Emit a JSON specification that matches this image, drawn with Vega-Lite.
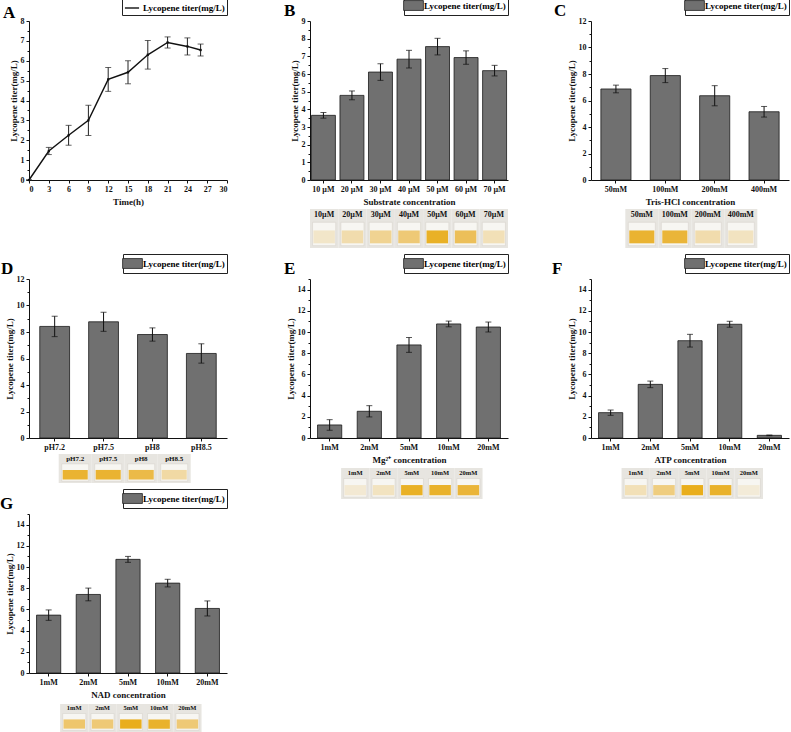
{
  "$schema": "https://vega.github.io/schema/vega-lite/v6.json",
  "description": "Lycopene titer under different reaction conditions, panels A-G",
  "padding": {"top": -5, "left": 0, "right": 0, "bottom": 0},
  "datasets": {
    "a": [
      {"t": 0, "v": 0, "e": 0},
      {"t": 3, "v": 1.46, "e": 0.18},
      {"t": 6, "v": 2.25, "e": 0.5},
      {"t": 9, "v": 3.0, "e": 0.76},
      {"t": 12, "v": 5.06, "e": 0.6},
      {"t": 15, "v": 5.42, "e": 0.58},
      {"t": 18, "v": 6.3, "e": 0.72},
      {"t": 21, "v": 6.92, "e": 0.28},
      {"t": 24, "v": 6.72, "e": 0.43},
      {"t": 26, "v": 6.54, "e": 0.3}
    ],
    "b": [
      {"c": "10 µM", "v": 3.66, "e": 0.16},
      {"c": "20 µM", "v": 4.79, "e": 0.25},
      {"c": "30 µM", "v": 6.11, "e": 0.47},
      {"c": "40 µM", "v": 6.84, "e": 0.5},
      {"c": "50 µM", "v": 7.55, "e": 0.47},
      {"c": "60 µM", "v": 6.93, "e": 0.38},
      {"c": "70 µM", "v": 6.19, "e": 0.3}
    ],
    "c": [
      {"c": "50mM", "v": 6.87, "e": 0.29},
      {"c": "100mM", "v": 7.88, "e": 0.53},
      {"c": "200mM", "v": 6.36, "e": 0.76},
      {"c": "400mM", "v": 5.15, "e": 0.4}
    ],
    "d": [
      {"c": "pH7.2", "v": 8.42, "e": 0.77},
      {"c": "pH7.5", "v": 8.77, "e": 0.72},
      {"c": "pH8", "v": 7.81, "e": 0.5},
      {"c": "pH8.5", "v": 6.38, "e": 0.73}
    ],
    "e": [
      {"c": "1mM", "v": 1.23, "e": 0.5},
      {"c": "2mM", "v": 2.52, "e": 0.53},
      {"c": "5mM", "v": 8.78, "e": 0.7},
      {"c": "10mM", "v": 10.76, "e": 0.27},
      {"c": "20mM", "v": 10.47, "e": 0.47}
    ],
    "f": [
      {"c": "1mM", "v": 2.39, "e": 0.25},
      {"c": "2mM", "v": 5.06, "e": 0.31},
      {"c": "5mM", "v": 9.18, "e": 0.6},
      {"c": "10mM", "v": 10.73, "e": 0.28},
      {"c": "20mM", "v": 0.25, "e": 0.03}
    ],
    "g": [
      {"c": "1mM", "v": 5.46, "e": 0.49},
      {"c": "2mM", "v": 7.41, "e": 0.6},
      {"c": "5mM", "v": 10.72, "e": 0.28},
      {"c": "10mM", "v": 8.48, "e": 0.36},
      {"c": "20mM", "v": 6.09, "e": 0.71}
    ],
    "pb": [
      {"c": "10µM", "k": 0.1},
      {"c": "20µM", "k": 0.25},
      {"c": "30µM", "k": 0.4},
      {"c": "40µM", "k": 0.55},
      {"c": "50µM", "k": 0.92},
      {"c": "60µM", "k": 0.7},
      {"c": "70µM", "k": 0.2}
    ],
    "pc": [
      {"c": "50mM", "k": 0.88},
      {"c": "100mM", "k": 0.85},
      {"c": "200mM", "k": 0.25},
      {"c": "400mM", "k": 0.15}
    ],
    "pd": [
      {"c": "pH7.2", "k": 0.88},
      {"c": "pH7.5", "k": 0.88},
      {"c": "pH8", "k": 0.78},
      {"c": "pH8.5", "k": 0.3}
    ],
    "pe": [
      {"c": "1mM", "k": 0.05},
      {"c": "2mM", "k": 0.15},
      {"c": "5mM", "k": 0.92},
      {"c": "10mM", "k": 0.9},
      {"c": "20mM", "k": 0.85}
    ],
    "pf": [
      {"c": "1mM", "k": 0.2},
      {"c": "2mM", "k": 0.5},
      {"c": "5mM", "k": 0.95},
      {"c": "10mM", "k": 0.9},
      {"c": "20mM", "k": 0.02}
    ],
    "pg": [
      {"c": "1mM", "k": 0.6},
      {"c": "2mM", "k": 0.55},
      {"c": "5mM", "k": 0.95},
      {"c": "10mM", "k": 0.9},
      {"c": "20mM", "k": 0.55}
    ]
  },
  "vconcat": [
    {
      "columns": 3,
      "spacing": {"column": 83, "row": 29},
      "bounds": "flush",
      "resolve": {"scale": {"color": "independent", "x": "independent", "y": "independent"}, "legend": {"color": "independent"}},
      "concat": [
        {
          "width": 198, "height": 159,
          "title": {"text": "A", "dx": -26},
          "data": {"name": "a"},
          "encoding": {
            "x": {"field": "t", "type": "quantitative", "scale": {"domain": [0, 30], "nice": false}, "axis": {"title": "Time(h)", "values": [0, 3, 6, 9, 12, 15, 18, 21, 24, 27, 30]}}
          },
          "layer": [
            {
              "mark": {"type": "errorbar", "ticks": {"size": 6}, "color": "#222"},
              "encoding": {
                "y": {"field": "v", "type": "quantitative", "scale": {"domain": [0, 8], "nice": false}, "axis": {"orient": "left", "title": null, "labels": false, "domain": false, "tickSize": 2, "values": [0.5, 1.5, 2.5, 3.5, 4.5, 5.5, 6.5, 7.5]}},
                "yError": {"field": "e"}
              }
            },
            {
              "mark": {"type": "line", "strokeWidth": 1.4, "point": {"shape": "square", "size": 5, "filled": true, "color": "#111"}},
              "encoding": {
                "y": {"field": "v", "type": "quantitative", "axis": {"orient": "left", "title": "Lycopene titer(mg/L)", "values": [0, 1, 2, 3, 4, 5, 6, 7, 8]}},
                "color": {"datum": "Lycopene titer(mg/L)", "scale": {"range": ["#111111"]}, "legend": {"title": null, "symbolType": "stroke", "symbolSize": 200, "symbolStrokeWidth": 1.4}}
              }
            }
          ],
          "resolve": {"axis": {"y": "independent"}}
        },
        {
          "width": 198, "height": 159,
          "title": {"text": "B", "dx": -26},
          "data": {"name": "b"},
          "encoding": {
            "x": {"field": "c", "type": "nominal", "sort": null, "scale": {"paddingInner": 0.16, "paddingOuter": 0.05}, "axis": {"title": "Substrate concentration"}}
          },
          "layer": [
            {
              "mark": {"type": "bar", "stroke": "#1a1a1a", "strokeWidth": 0.8},
              "encoding": {
                "y": {"field": "v", "type": "quantitative", "scale": {"domain": [0, 9], "nice": false}, "axis": {"orient": "left", "title": "Lycopene titer(mg/L)", "values": [0, 1, 2, 3, 4, 5, 6, 7, 8, 9]}},
                "color": {"datum": "Lycopene titer(mg/L)", "scale": {"range": ["#707070"]}, "legend": {"title": null}}
              }
            },
            {
              "mark": {"type": "errorbar", "ticks": {"size": 6}, "color": "#111"},
              "encoding": {
                "y": {"field": "v", "type": "quantitative", "axis": {"orient": "left", "title": null, "labels": false, "domain": false, "tickSize": 2, "values": [0.5, 1.5, 2.5, 3.5, 4.5, 5.5, 6.5, 7.5, 8.5]}},
                "yError": {"field": "e"}
              }
            }
          ],
          "resolve": {"axis": {"y": "independent"}}
        },
        {
          "width": 198, "height": 159,
          "title": {"text": "C", "dx": -37},
          "data": {"name": "c"},
          "encoding": {
            "x": {"field": "c", "type": "nominal", "sort": null, "scale": {"paddingInner": 0.39, "paddingOuter": 0.2}, "axis": {"title": "Tris-HCl concentration"}}
          },
          "layer": [
            {
              "mark": {"type": "bar", "stroke": "#1a1a1a", "strokeWidth": 0.8},
              "encoding": {
                "y": {"field": "v", "type": "quantitative", "scale": {"domain": [0, 12], "nice": false}, "axis": {"orient": "left", "title": "Lycopene titer(mg/L)", "values": [0, 2, 4, 6, 8, 10, 12]}},
                "color": {"datum": "Lycopene titer(mg/L)", "scale": {"range": ["#707070"]}, "legend": {"title": null}}
              }
            },
            {
              "mark": {"type": "errorbar", "ticks": {"size": 6}, "color": "#111"},
              "encoding": {
                "y": {"field": "v", "type": "quantitative", "axis": {"orient": "left", "title": null, "labels": false, "domain": false, "tickSize": 2, "values": [1, 3, 5, 7, 9, 11]}},
                "yError": {"field": "e"}
              }
            }
          ],
          "resolve": {"axis": {"y": "independent"}}
        },
        {"width": 198, "height": 39, "data": {"values": []}, "mark": "point"},
        {
          "width": 198, "height": 39,
          "data": {"name": "pb"},
          "encoding": {"x": {"field": "c", "type": "nominal", "sort": null, "axis": null, "scale": {"paddingInner": 0, "paddingOuter": 0}}},
          "layer": [
            {"mark": {"type": "rect", "color": "#e7e5e0"}, "encoding": {"y": {"datum": 0, "scale": {"domain": [0, 1], "nice": false, "zero": false}, "axis": null}, "y2": {"datum": 1}}},
            {"mark": {"type": "bar", "width": {"band": 0.82}, "color": "#f7f6f2", "stroke": "#d6d3cc", "strokeWidth": 0.6}, "encoding": {"y": {"datum": 0.06}, "y2": {"datum": 0.66}}},
            {"mark": {"type": "bar", "width": {"band": 0.76}}, "encoding": {"y": {"datum": 0.12}, "y2": {"datum": 0.45}, "color": {"field": "k", "type": "quantitative", "scale": {"domain": [0, 1], "range": ["#f3ecdc", "#e8ab00"]}, "legend": null}}},
            {"mark": {"type": "text", "fontWeight": "bold", "fontSize": 8, "color": "#111"}, "encoding": {"y": {"datum": 0.84}, "text": {"field": "c"}}}
          ]
        },
        {
          "width": 198, "height": 39,
          "data": {"name": "pc"},
          "encoding": {"x": {"field": "c", "type": "nominal", "sort": null, "axis": null, "scale": {"paddingInner": 0, "paddingOuter": 1.118, "align": 0.52}}},
          "layer": [
            {"mark": {"type": "rect", "color": "#e7e5e0"}, "encoding": {"y": {"datum": 0, "scale": {"domain": [0, 1], "nice": false, "zero": false}, "axis": null}, "y2": {"datum": 1}}},
            {"mark": {"type": "bar", "width": {"band": 0.82}, "color": "#f7f6f2", "stroke": "#d6d3cc", "strokeWidth": 0.6}, "encoding": {"y": {"datum": 0.06}, "y2": {"datum": 0.66}}},
            {"mark": {"type": "bar", "width": {"band": 0.76}}, "encoding": {"y": {"datum": 0.12}, "y2": {"datum": 0.45}, "color": {"field": "k", "type": "quantitative", "scale": {"domain": [0, 1], "range": ["#f3ecdc", "#e8ab00"]}, "legend": null}}},
            {"mark": {"type": "text", "fontWeight": "bold", "fontSize": 8, "color": "#111"}, "encoding": {"y": {"datum": 0.84}, "text": {"field": "c"}}}
          ]
        }
      ]
    },
    {
      "vconcat": [
        {
          "columns": 3,
          "spacing": {"column": 83, "row": 16},
          "bounds": "flush",
          "resolve": {"scale": {"color": "independent", "x": "independent", "y": "independent"}, "legend": {"color": "independent"}},
          "concat": [
            {
              "width": 198, "height": 159,
              "title": {"text": "D", "dx": -28},
              "data": {"name": "d"},
              "encoding": {
                "x": {"field": "c", "type": "nominal", "sort": null, "scale": {"paddingInner": 0.39, "paddingOuter": 0.22}, "axis": {"title": null}}
              },
              "layer": [
                {
                  "mark": {"type": "bar", "stroke": "#1a1a1a", "strokeWidth": 0.8},
                  "encoding": {
                    "y": {"field": "v", "type": "quantitative", "scale": {"domain": [0, 12], "nice": false}, "axis": {"orient": "left", "title": "Lycopene titer(mg/L)", "values": [0, 2, 4, 6, 8, 10, 12]}},
                    "color": {"datum": "Lycopene titer(mg/L)", "scale": {"range": ["#707070"]}, "legend": {"title": null}}
                  }
                },
                {
                  "mark": {"type": "errorbar", "ticks": {"size": 6}, "color": "#111"},
                  "encoding": {
                    "y": {"field": "v", "type": "quantitative", "axis": {"orient": "left", "title": null, "labels": false, "domain": false, "tickSize": 2, "values": [1, 3, 5, 7, 9, 11]}},
                    "yError": {"field": "e"}
                  }
                }
              ],
              "resolve": {"axis": {"y": "independent"}}
            },
            {
              "width": 198, "height": 159,
              "title": {"text": "E", "dx": -26},
              "data": {"name": "e"},
              "encoding": {
                "x": {"field": "c", "type": "nominal", "sort": null, "scale": {"paddingInner": 0.39, "paddingOuter": 0.19}, "axis": {"title": "Mg²⁺ concentration"}}
              },
              "layer": [
                {
                  "mark": {"type": "bar", "stroke": "#1a1a1a", "strokeWidth": 0.8},
                  "encoding": {
                    "y": {"field": "v", "type": "quantitative", "scale": {"domain": [0, 15], "nice": false}, "axis": {"orient": "left", "title": "Lycopene titer(mg/L)", "values": [0, 2, 4, 6, 8, 10, 12, 14]}},
                    "color": {"datum": "Lycopene titer(mg/L)", "scale": {"range": ["#707070"]}, "legend": {"title": null}}
                  }
                },
                {
                  "mark": {"type": "errorbar", "ticks": {"size": 6}, "color": "#111"},
                  "encoding": {
                    "y": {"field": "v", "type": "quantitative", "axis": {"orient": "left", "title": null, "labels": false, "domain": false, "tickSize": 2, "values": [1, 3, 5, 7, 9, 11, 13, 15]}},
                    "yError": {"field": "e"}
                  }
                }
              ],
              "resolve": {"axis": {"y": "independent"}}
            },
            {
              "width": 198, "height": 159,
              "title": {"text": "F", "dx": -39},
              "data": {"name": "f"},
              "encoding": {
                "x": {"field": "c", "type": "nominal", "sort": null, "scale": {"paddingInner": 0.39, "paddingOuter": 0.19}, "axis": {"title": "ATP concentration"}}
              },
              "layer": [
                {
                  "mark": {"type": "bar", "stroke": "#1a1a1a", "strokeWidth": 0.8},
                  "encoding": {
                    "y": {"field": "v", "type": "quantitative", "scale": {"domain": [0, 15], "nice": false}, "axis": {"orient": "left", "title": "Lycopene titer(mg/L)", "values": [0, 2, 4, 6, 8, 10, 12, 14]}},
                    "color": {"datum": "Lycopene titer(mg/L)", "scale": {"range": ["#707070"]}, "legend": {"title": null}}
                  }
                },
                {
                  "mark": {"type": "errorbar", "ticks": {"size": 6}, "color": "#111"},
                  "encoding": {
                    "y": {"field": "v", "type": "quantitative", "axis": {"orient": "left", "title": null, "labels": false, "domain": false, "tickSize": 2, "values": [1, 3, 5, 7, 9, 11, 13, 15]}},
                    "yError": {"field": "e"}
                  }
                }
              ],
              "resolve": {"axis": {"y": "independent"}}
            },
            {
              "width": 198, "height": 45,
              "data": {"name": "pd"},
              "encoding": {"x": {"field": "c", "type": "nominal", "sort": null, "axis": null, "scale": {"paddingInner": 0, "paddingOuter": 2.714, "align": 0.45}}},
              "layer": [
                {"mark": {"type": "rect", "color": "#e7e5e0"}, "encoding": {"y": {"datum": 0, "scale": {"domain": [-0.552, 1], "nice": false, "zero": false}, "axis": null}, "y2": {"datum": 1}}},
                {"mark": {"type": "bar", "width": {"band": 0.82}, "color": "#f7f6f2", "stroke": "#d6d3cc", "strokeWidth": 0.6}, "encoding": {"y": {"datum": 0.06}, "y2": {"datum": 0.66}}},
                {"mark": {"type": "bar", "width": {"band": 0.76}}, "encoding": {"y": {"datum": 0.12}, "y2": {"datum": 0.45}, "color": {"field": "k", "type": "quantitative", "scale": {"domain": [0, 1], "range": ["#f3ecdc", "#e8ab00"]}, "legend": null}}},
                {"mark": {"type": "text", "fontWeight": "bold", "fontSize": 7, "color": "#111"}, "encoding": {"y": {"datum": 0.84}, "text": {"field": "c"}}}
              ]
            },
            {
              "width": 198, "height": 45,
              "data": {"name": "pe"},
              "encoding": {"x": {"field": "c", "type": "nominal", "sort": null, "axis": null, "scale": {"paddingInner": 0, "paddingOuter": 1.625, "align": 0.55}}},
              "layer": [
                {"mark": {"type": "rect", "color": "#e7e5e0"}, "encoding": {"y": {"datum": 0, "scale": {"domain": [0, 1.452], "nice": false, "zero": false}, "axis": null}, "y2": {"datum": 1}}},
                {"mark": {"type": "bar", "width": {"band": 0.82}, "color": "#f7f6f2", "stroke": "#d6d3cc", "strokeWidth": 0.6}, "encoding": {"y": {"datum": 0.06}, "y2": {"datum": 0.66}}},
                {"mark": {"type": "bar", "width": {"band": 0.76}}, "encoding": {"y": {"datum": 0.12}, "y2": {"datum": 0.45}, "color": {"field": "k", "type": "quantitative", "scale": {"domain": [0, 1], "range": ["#f3ecdc", "#e8ab00"]}, "legend": null}}},
                {"mark": {"type": "text", "fontWeight": "bold", "fontSize": 6.5, "color": "#111"}, "encoding": {"y": {"datum": 0.84}, "text": {"field": "c"}}}
              ]
            },
            {
              "width": 198, "height": 45,
              "data": {"name": "pf"},
              "encoding": {"x": {"field": "c", "type": "nominal", "sort": null, "axis": null, "scale": {"paddingInner": 0, "paddingOuter": 1.64, "align": 0.54}}},
              "layer": [
                {"mark": {"type": "rect", "color": "#e7e5e0"}, "encoding": {"y": {"datum": 0, "scale": {"domain": [0, 1.452], "nice": false, "zero": false}, "axis": null}, "y2": {"datum": 1}}},
                {"mark": {"type": "bar", "width": {"band": 0.82}, "color": "#f7f6f2", "stroke": "#d6d3cc", "strokeWidth": 0.6}, "encoding": {"y": {"datum": 0.06}, "y2": {"datum": 0.66}}},
                {"mark": {"type": "bar", "width": {"band": 0.76}}, "encoding": {"y": {"datum": 0.12}, "y2": {"datum": 0.45}, "color": {"field": "k", "type": "quantitative", "scale": {"domain": [0, 1], "range": ["#f3ecdc", "#e8ab00"]}, "legend": null}}},
                {"mark": {"type": "text", "fontWeight": "bold", "fontSize": 6.5, "color": "#111"}, "encoding": {"y": {"datum": 0.84}, "text": {"field": "c"}}}
              ]
            }
          ]
        },
        {
          "vconcat": [
            {
              "width": 198, "height": 159,
              "title": {"text": "G", "dx": -29},
              "data": {"name": "g"},
              "encoding": {
                "x": {"field": "c", "type": "nominal", "sort": null, "scale": {"paddingInner": 0.39, "paddingOuter": 0.19}, "axis": {"title": "NAD concentration"}}
              },
              "layer": [
                {
                  "mark": {"type": "bar", "stroke": "#1a1a1a", "strokeWidth": 0.8},
                  "encoding": {
                    "y": {"field": "v", "type": "quantitative", "scale": {"domain": [0, 15], "nice": false}, "axis": {"orient": "left", "title": "Lycopene titer(mg/L)", "values": [0, 2, 4, 6, 8, 10, 12, 14]}},
                    "color": {"datum": "Lycopene titer(mg/L)", "scale": {"range": ["#707070"]}, "legend": {"title": null}}
                  }
                },
                {
                  "mark": {"type": "errorbar", "ticks": {"size": 6}, "color": "#111"},
                  "encoding": {
                    "y": {"field": "v", "type": "quantitative", "axis": {"orient": "left", "title": null, "labels": false, "domain": false, "tickSize": 2, "values": [1, 3, 5, 7, 9, 11, 13, 15]}},
                    "yError": {"field": "e"}
                  }
                }
              ],
              "resolve": {"axis": {"y": "independent"}}
            },
            {
              "width": 198, "height": 28,
              "data": {"name": "pg"},
              "encoding": {"x": {"field": "c", "type": "nominal", "sort": null, "axis": null, "scale": {"paddingInner": 0, "paddingOuter": 1.88, "align": 0.55}}},
              "layer": [
                {"mark": {"type": "rect", "color": "#e7e5e0"}, "encoding": {"y": {"datum": 0, "scale": {"domain": [0, 1], "nice": false, "zero": false}, "axis": null}, "y2": {"datum": 1}}},
                {"mark": {"type": "bar", "width": {"band": 0.82}, "color": "#f7f6f2", "stroke": "#d6d3cc", "strokeWidth": 0.6}, "encoding": {"y": {"datum": 0.06}, "y2": {"datum": 0.66}}},
                {"mark": {"type": "bar", "width": {"band": 0.76}}, "encoding": {"y": {"datum": 0.12}, "y2": {"datum": 0.45}, "color": {"field": "k", "type": "quantitative", "scale": {"domain": [0, 1], "range": ["#f3ecdc", "#e8ab00"]}, "legend": null}}},
                {"mark": {"type": "text", "fontWeight": "bold", "fontSize": 6.5, "color": "#111"}, "encoding": {"y": {"datum": 0.84}, "text": {"field": "c"}}}
              ]
            }
          ],
          "spacing": 31,
          "bounds": "flush",
          "resolve": {"scale": {"color": "independent", "x": "independent", "y": "independent"}, "legend": {"color": "independent"}}
        }
      ],
      "spacing": -11,
      "resolve": {"scale": {"color": "independent"}, "legend": {"color": "independent"}}
    }
  ],
  "spacing": 5,
  "resolve": {"scale": {"color": "independent"}, "legend": {"color": "independent"}},
  "config": {
    "font": "Liberation Serif",
    "view": {"stroke": null},
    "axis": {
      "grid": false,
      "labelFont": "Liberation Serif",
      "labelFontWeight": "bold",
      "labelFontSize": 8,
      "labelColor": "#111",
      "labelPadding": 2,
      "titleFont": "Liberation Serif",
      "titleFontWeight": "bold",
      "titleFontSize": 9,
      "titleColor": "#111",
      "domainColor": "#111",
      "tickColor": "#111",
      "tickSize": 3
    },
    "axisX": {"labelAngle": 0, "titlePadding": 4},
    "axisY": {"titlePadding": 2},
    "title": {"font": "Liberation Serif", "fontSize": 17, "fontWeight": "bold", "anchor": "start", "frame": "group", "offset": 4, "dy": 28, "color": "#000"},
    "legend": {
      "orient": "top",
      "offset": 6,
      "layout": {"top": {"anchor": "end"}},
      "strokeColor": "#222",
      "fillColor": "#ffffff",
      "padding": 2,
      "cornerRadius": 0,
      "labelFont": "Liberation Serif",
      "labelFontWeight": "bold",
      "labelFontSize": 9,
      "labelColor": "#000",
      "labelOffset": 3,
      "symbolType": "M-1.4,-0.7H1.4V0.7H-1.4Z",
      "symbolSize": 200,
      "symbolStrokeColor": "#222",
      "symbolStrokeWidth": 0.8,
      "symbolOpacity": 1
    }
  }
}
